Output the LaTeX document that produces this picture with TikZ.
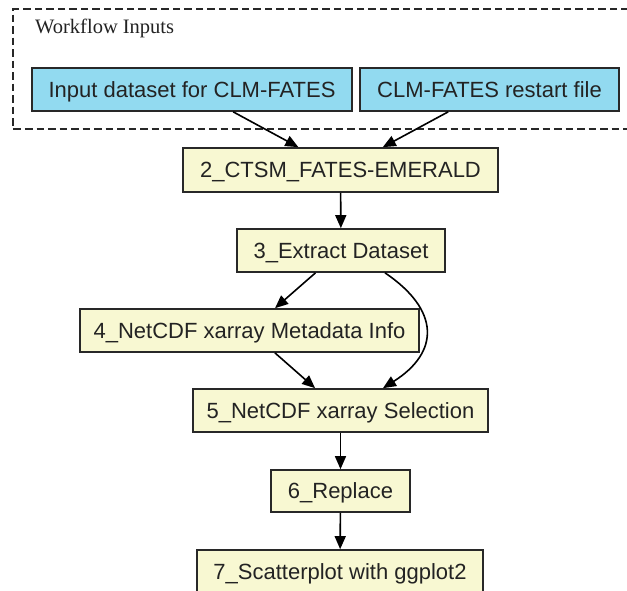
\documentclass[tikz,border=0pt]{standalone}
\usepackage{fontspec}
\setmainfont{Liberation Sans}
\newfontfamily\serifface{Liberation Serif}
\usetikzlibrary{arrows.meta}
\definecolor{inblue}{RGB}{146,218,240}
\definecolor{stepyellow}{RGB}{248,248,210}
\definecolor{edgegray}{RGB}{40,40,40}
\definecolor{txtgray}{RGB}{35,35,35}
\begin{document}
\begin{tikzpicture}[x=1pt,y=-1pt,
  boxbase/.style={draw=edgegray, line width=1.7pt, rectangle, inner sep=0pt,
    text=txtgray, text height=17pt, text depth=2pt, font=\fontsize{22}{24}\selectfont},
  inputbox/.style={boxbase, fill=inblue},
  stepbox/.style={boxbase, fill=stepyellow},
  conn/.style={draw=black, line width=1.6pt, -{Triangle[length=13pt,width=11pt]}},
  clusterbox/.style={draw=edgegray, line width=1.7pt, dash pattern=on 7.5pt off 4pt}
]
\useasboundingbox (0,0) rectangle (627,590);
\fill[white] (0,0) rectangle (627,590);
% cluster
\draw[clusterbox] (640,9) -- (13,9) -- (13,129) -- (640,129);
\node[anchor=base west, inner sep=0pt, text=txtgray, font=\serifface\fontsize{20.5}{23}\selectfont] (ctitle) at (35,33.5) {Workflow Inputs};
% nodes
\node[inputbox, minimum width=320pt, minimum height=43pt] (A) at (192,89.5) {Input dataset for CLM-FATES};
\node[inputbox, minimum width=259pt, minimum height=43pt] (B) at (489.5,89.5) {CLM-FATES restart file};
\node[stepbox, minimum width=315pt, minimum height=44pt] (n2) at (340.5,170) {2\_CTSM\_FATES-EMERALD};
\node[stepbox, minimum width=208pt, minimum height=43pt] (n3) at (341,250.5) {3\_Extract Dataset};
\node[stepbox, minimum width=339pt, minimum height=43pt] (n4) at (249.5,330.5) {4\_NetCDF xarray Metadata Info};
\node[stepbox, minimum width=295pt, minimum height=43pt] (n5) at (340.5,410.5) {5\_NetCDF xarray Selection};
\node[stepbox, minimum width=139pt, minimum height=42pt] (n6) at (340.5,491) {6\_Replace};
\node[stepbox, minimum width=286pt, minimum height=43pt] (n7) at (340,571.5) {7\_Scatterplot with ggplot2};
% connectors
\draw[conn] (A) -- (n2);
\draw[conn] (B) -- (n2);
\draw[conn] (n2) -- (n3);
\draw[conn] (n3) -- (n4);
\draw[conn] ([xshift=44pt]n3.south) .. controls (440,310) and (440,352) .. ([xshift=42.5pt]n5.north);
\draw[conn] (n4) -- (n5);
\draw[conn] (n5) -- (n6);
\draw[conn] (n6) -- (n7);
\end{tikzpicture}
\end{document}
